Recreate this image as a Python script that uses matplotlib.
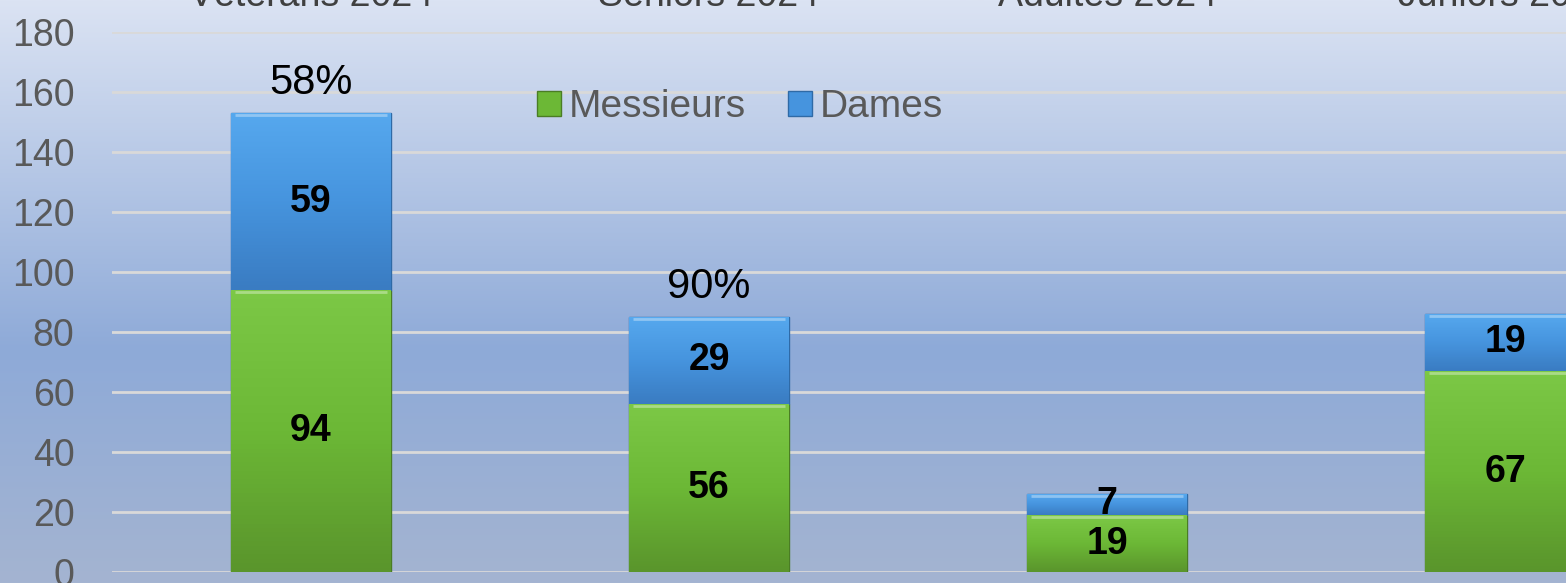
import numpy as np
import matplotlib
matplotlib.use('Agg')
import matplotlib.pyplot as plt
import matplotlib.transforms as mtransforms
from matplotlib.colors import LinearSegmentedColormap
from matplotlib.patches import Patch

plt.rcParams['font.family'] = ['Liberation Sans', 'DejaVu Sans']

# Données
categories = ['Vétérans 2024', 'Seniors 2024', 'Adultes 2024', 'Juniors 2024']
messieurs = [94, 56, 19, 67]
dames = [59, 29, 7, 19]
pourcentages = ['58%', '90%', '', '']

W, H = 1566, 583
fig = plt.figure(figsize=(W / 100, H / 100), dpi=100)

# Fond dégradé
bg = fig.add_axes([0, 0, 1, 1], zorder=-10)
bg_cmap = LinearSegmentedColormap.from_list(
    'bg', [(0, '#a4b4d1'), (0.4, '#8eaad8'), (1, '#dbe3f3')])
bg.imshow(np.linspace(0, 1, 256).reshape(-1, 1), aspect='auto', cmap=bg_cmap,
          origin='lower', extent=[0, 1, 0, 1])
bg.axis('off')

ax = fig.add_axes([112 / W, 11 / H, 1592 / W, 540 / H])
ax.patch.set_alpha(0)

x = np.arange(len(categories))
width = 0.4

green_cmap = LinearSegmentedColormap.from_list('g', ['#5a952c', '#6cb836', '#7cc846'])
blue_cmap = LinearSegmentedColormap.from_list('b', ['#3a7cc2', '#4694de', '#56a8ee'])


def draw_bars(bottoms, heights, cmap, edge):
    bars = ax.bar(x, heights, width, bottom=bottoms, color=cmap(0.5),
                  edgecolor=edge, linewidth=1.0, zorder=3)
    for b in bars:
        x0, y0 = b.get_x(), b.get_y()
        w, h = b.get_width(), b.get_height()
        im = ax.imshow(np.linspace(0, 1, 64).reshape(-1, 1), cmap=cmap,
                       origin='lower', aspect='auto',
                       extent=[x0, x0 + w, y0, y0 + h], zorder=3.5)
        im.set_clip_path(b)
        ax.plot([x0 + 0.01, x0 + w - 0.01], [y0 + h - 0.6] * 2,
                color='white', alpha=0.35, lw=2, zorder=4, solid_capstyle='butt')
    return bars


draw_bars(0, messieurs, green_cmap, '#4a7d24')
draw_bars(messieurs, dames, blue_cmap, '#2f6aa6')

# Étiquettes de valeurs
for i in range(len(categories)):
    ax.text(x[i], messieurs[i] / 2, str(messieurs[i]), ha='center', va='center',
            fontsize=27, fontweight='bold', color='black', zorder=6)
    ax.text(x[i], messieurs[i] + dames[i] / 2, str(dames[i]), ha='center',
            va='center', fontsize=27, fontweight='bold', color='black', zorder=6)
    if pourcentages[i]:
        ax.text(x[i], messieurs[i] + dames[i] + 6.5, pourcentages[i],
                ha='center', va='baseline', fontsize=30, color='black', zorder=6)

# Catégories en haut (coupées par le bord de l'image)
trans = mtransforms.blended_transform_factory(ax.transData, fig.transFigure)
for i, c in enumerate(categories):
    ax.text(x[i], 1 - 6 / H, c, transform=trans, ha='center', va='baseline',
            fontsize=27, color='#404040', clip_on=False)

ax.set_xlim(-0.5, 3.5)
ax.set_ylim(0, 180)
ax.set_yticks(range(0, 181, 20))
ax.set_xticks([])
ax.tick_params(axis='y', length=0, labelsize=27, labelcolor='#595959', pad=27)
ax.grid(axis='y', color='#d9d9d9', linewidth=2, zorder=0)
for s in ax.spines.values():
    s.set_visible(False)

handles = [Patch(facecolor='#6cb836', edgecolor='#4a7d24', label='Messieurs'),
           Patch(facecolor='#4694de', edgecolor='#2f6aa6', label='Dames')]
fig.legend(handles=handles, loc='center', bbox_to_anchor=(740 / W, 1 - 107 / H),
           ncol=2, frameon=False, fontsize=28, handlelength=0.6, handleheight=0.6,
           handletextpad=0.2, columnspacing=1.1, labelcolor='#595959')

fig.savefig('out.png', dpi=100)
